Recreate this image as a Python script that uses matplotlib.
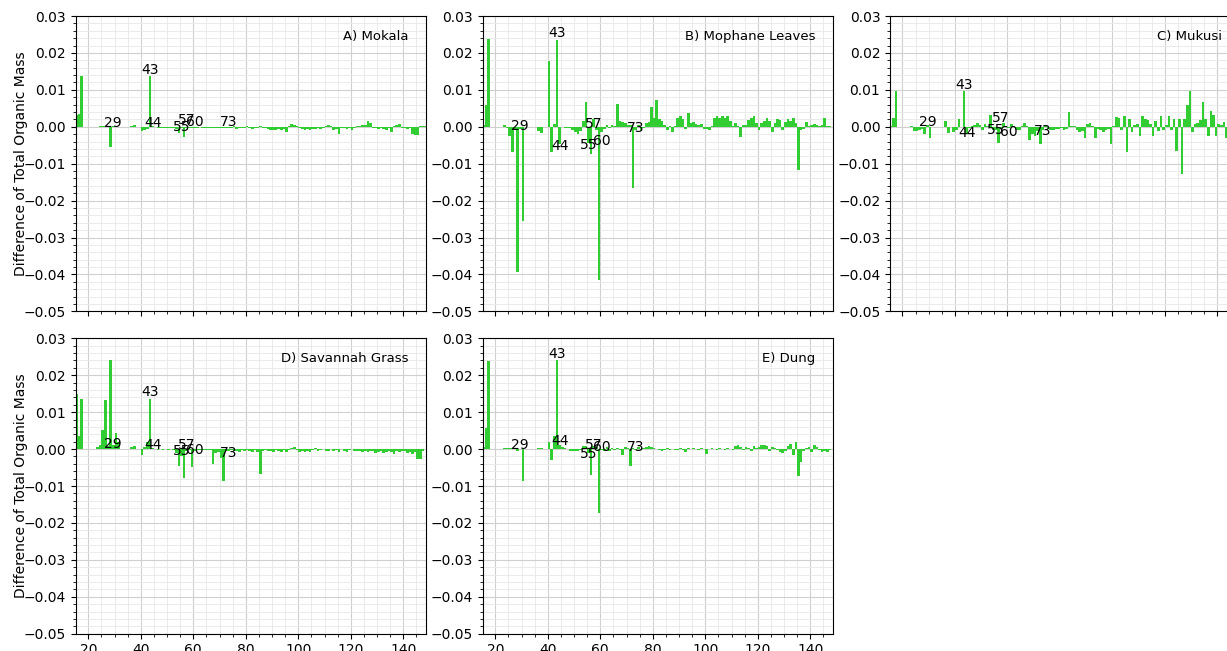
import numpy as np
import matplotlib.pyplot as plt
from matplotlib.ticker import AutoMinorLocator, MultipleLocator

# m/z axis shared by every panel
mz = np.arange(15, 149)

# difference of total organic mass per m/z (15 ... 148)
mokala = [
    0.0033, 0.0035, 0.0137, 0, 0, 0, 0, 0, 0, 0.0002,
    0.0003, 0.0002, 0, -0.0054, 0.0002, 0, 0, 0, 0, 0,
    0, 0.0003, 0.0004, 0, 0, -0.0012, -0.0009, -0.0005, 0.0137, 0.0002,
    -0.0001, -0.0002, -0.0002, -0.0003, -0.0002, -0.0002, -0.0003, -0.0002, -0.0005, -0.0016,
    -0.0004, -0.0027, -0.0003, -0.0002, -0.0003, -0.0002, -0.0002, -0.0001, -0.0003, -0.0004,
    -0.0004, -0.0003, -0.0004, -0.0004, -0.0003, -0.0002, -0.0003, -0.0002, -0.0003, -0.0002,
    0.0002, -0.0006, -0.0004, -0.0002, -0.0003, 0.0002, -0.0003, -0.0005, -0.0003, -0.0002,
    0.0002, -0.0002, -0.0003, -0.0006, -0.0009, -0.0008, -0.0009, -0.0006, -0.0009, -0.0006,
    -0.0014, 0.0003, 0.0007, 0.0005, 0.0003, -0.0003, -0.0006, -0.0008, -0.0006, -0.0009,
    -0.0007, -0.0005, -0.0003, -0.0006, -0.0004, 0.0003, 0.0005, 0.0003, -0.0008, -0.0005,
    -0.0019, -0.0003, -0.0004, -0.0006, -0.0003, -0.0009, -0.0004, 0.0002, 0.0003, 0.0004,
    0.0005, 0.0015, 0.0010, -0.0003, -0.0004, -0.0006, -0.0003, -0.0005, -0.0009, -0.0004,
    -0.0014, 0.0003, 0.0004, 0.0008, -0.0004, -0.0003, -0.0005, -0.0003, -0.0019, -0.0022,
    -0.0021, 0.0003, 0.0002, 0.0001,
]

mophane = [
    0.0005, 0.0058, 0.0237, 0, 0, 0, 0, 0, 0.0005, -0.0004,
    -0.0025, -0.0068, -0.0010, -0.0394, -0.0005, -0.0254, 0, 0, 0, 0,
    0, -0.0012, -0.0018, 0, 0, 0.0178, -0.0069, 0.0007, 0.0235, -0.0047,
    0, -0.0002, -0.0003, -0.0002, -0.0008, -0.0015, -0.0020, -0.0012, 0.0015, 0.0067,
    -0.0045, -0.0075, 0.0020, -0.0010, -0.0415, -0.0015, -0.0005, 0.0005, -0.0003, 0.0005,
    0.0003, 0.0062, 0.0015, 0.0012, 0.0010, 0.0005, 0.0004, -0.0165, -0.0008, 0.0005,
    -0.0008, -0.0003, 0.0010, 0.0012, 0.0053, 0.0025, 0.0072, 0.0020, 0.0015, 0.0005,
    -0.0008, 0.0002, -0.0015, 0.0002, 0.0025, 0.0030, 0.0020, -0.0005, 0.0038, 0.0010,
    0.0012, 0.0008, 0.0005, 0.0008, -0.0007, -0.0005, -0.0008, 0.0003, 0.0025, 0.0030,
    0.0025, 0.0030, 0.0025, 0.0030, 0.0015, 0.0003, 0.0010, 0.0002, -0.0027, 0.0005,
    0.0005, 0.0018, 0.0025, 0.0030, 0.0010, -0.0008, 0.0010, 0.0015, 0.0025, 0.0015,
    -0.0015, 0.0010, 0.0022, 0.0018, -0.0010, 0.0012, 0.0020, 0.0015, 0.0025, 0.0010,
    -0.0118, -0.0008, -0.0005, 0.0012, 0.0003, 0.0005, 0.0008, 0.0005, 0.0002, 0.0005,
    0.0025, 0.0003, 0.0002, 0,
]

mukusi = [
    0.0003, 0.0025, 0.0098, 0, 0, 0, 0, 0, 0.0003, -0.0012,
    -0.0012, -0.0008, -0.0006, -0.0020, 0.0006, -0.0030, 0, 0, 0, 0,
    0, 0.0015, -0.0018, 0, -0.0015, -0.0010, 0.0020, 0, 0.0098, -0.0020,
    -0.0004, 0.0003, 0.0005, 0.0010, 0.0005, -0.0008, 0.0008, 0.0003, 0.0032, -0.0008,
    -0.0010, -0.0045, -0.0005, 0.0010, 0.0003, -0.0004, 0.0008, 0.0002, -0.0008, -0.0008,
    0.0003, 0.0010, 0.0002, -0.0035, -0.0020, -0.0025, -0.0012, -0.0048, -0.0008, 0.0005,
    -0.0005, -0.0008, -0.0010, -0.0005, -0.0005, -0.0003, -0.0008, -0.0006, 0.0041, 0.0003,
    0.0002, -0.0008, -0.0015, -0.0012, -0.0030, 0.0008, 0.0010, 0.0002, -0.0030, -0.0005,
    -0.0010, -0.0015, -0.0008, -0.0005, -0.0048, 0.0003, 0.0027, 0.0025, -0.0010, 0.0030,
    -0.0068, 0.0020, -0.0015, 0.0005, 0.0008, -0.0025, 0.0030, 0.0020, 0.0018, 0.0008,
    -0.0025, 0.0015, -0.0012, 0.0030, -0.0008, 0.0005, 0.0028, -0.0008, 0.0020, -0.0065,
    0.0020, -0.0128, 0.0020, 0.0058, 0.0098, -0.0015, 0.0008, 0.0010, 0.0018, 0.0068,
    0.0020, -0.0025, 0.0042, 0.0032, -0.0025, 0.0008, 0.0005, 0.0012, -0.0030, 0.0010,
    0.0005, 0.0008, 0.0003, 0.0015,
]

savannah = [
    0.0150, 0.0035, 0.0137, 0, 0, 0, 0, 0, 0.0005, 0.0012,
    0.0052, 0.0132, 0.0008, 0.0240, 0.0010, 0.0043, 0.0020, 0, 0, 0,
    0, 0.0005, 0.0008, 0, 0, -0.0015, 0.0005, 0.0020, 0.0136, 0.0003,
    -0.0001, -0.0002, -0.0001, -0.0002, -0.0001, -0.0002, -0.0001, -0.0002, -0.0010, -0.0045,
    -0.0020, -0.0079, -0.0005, -0.0003, -0.0048, -0.0005, -0.0003, -0.0002, -0.0003, -0.0003,
    -0.0003, -0.0003, -0.0040, -0.0010, -0.0008, -0.0025, -0.0086, -0.0005, -0.0004, -0.0003,
    -0.0004, -0.0005, -0.0008, -0.0003, -0.0006, -0.0002, -0.0005, -0.0007, -0.0003, -0.0008,
    -0.0068, -0.0005, -0.0003, -0.0006, -0.0004, -0.0008, -0.0002, -0.0006, -0.0007, -0.0003,
    -0.0008, -0.0002, 0.0003, 0.0005, -0.0003, -0.0008, -0.0005, -0.0009, -0.0004, -0.0007,
    -0.0003, 0.0003, -0.0006, -0.0002, 0, -0.0004, -0.0006, 0, -0.0005, -0.0003,
    -0.0008, 0, -0.0004, -0.0007, -0.0003, 0, -0.0005, -0.0004, -0.0006, -0.0008,
    -0.0005, -0.0009, -0.0006, -0.0004, -0.0010, -0.0007, -0.0005, -0.0010, -0.0008, -0.0004,
    -0.0009, -0.0012, -0.0006, -0.0008, -0.0005, -0.0006, -0.0010, -0.0008, -0.0012, -0.0009,
    -0.0028, -0.0027, -0.0005, 0,
]

dung = [
    0.0005, 0.0057, 0.0238, 0, 0, 0, 0, 0, 0.0003, 0.0002,
    0.0003, 0.0002, 0.0003, -0.0005, 0, -0.0086, 0, 0, 0, 0,
    0, 0.0003, 0.0003, 0, 0, 0.0018, -0.0030, 0.0035, 0.0240, 0.0012,
    0.0005, 0.0003, 0, -0.0005, -0.0005, -0.0004, -0.0005, -0.0002, 0.0008, 0.0008,
    -0.0010, -0.0070, 0.0008, 0.0005, -0.0172, -0.0003, -0.0005, 0.0005, -0.0004, 0.0003,
    -0.0003, 0.0004, -0.0002, -0.0015, 0.0005, 0.0002, -0.0045, 0.0003, -0.0003, 0.0005,
    -0.0003, 0.0002, 0.0005, 0.0008, 0.0005, 0.0002, 0, -0.0003, -0.0005, -0.0003,
    0.0002, -0.0003, 0, -0.0003, -0.0002, 0.0002, -0.0002, -0.0008, 0.0002, 0,
    0.0002, 0, -0.0002, 0.0002, 0, -0.0012, 0, 0.0002, 0, -0.0003,
    0.0002, 0, -0.0003, 0.0003, 0, -0.0002, 0.0008, 0.0012, 0.0005, -0.0003,
    0.0005, 0.0003, -0.0005, 0.0008, 0.0003, 0.0005, 0.0012, 0.0010, 0.0008, -0.0005,
    0.0005, 0.0003, -0.0003, -0.0008, -0.0010, -0.0005, 0.0008, 0.0015, -0.0015, 0.0020,
    -0.0072, -0.0035, -0.0005, 0.0003, 0.0005, -0.0008, 0.0012, 0.0005, -0.0003, -0.0008,
    -0.0005, -0.0008, -0.0003, 0,
]

# labelled fragments and where their tags sit in each panel
peaks = [29, 43, 44, 55, 57, 60, 73]
tag_y = {
    'A': [0.0010, 0.0155, 0.0010, 0.0000, 0.0018, 0.0014, 0.0013],
    'B': [0.0001, 0.0255, -0.0053, -0.0049, 0.0007, -0.0038, -0.0002],
    'C': [0.0012, 0.0114, -0.0018, -0.0008, 0.0023, -0.0015, -0.0012],
    'D': [0.0015, 0.0154, 0.0010, -0.0006, 0.0012, -0.0002, -0.0011],
    'E': [0.0010, 0.0258, 0.0023, -0.0014, 0.0012, 0.0005, 0.0005],
}

panels = [
    ('A', 'A) Mokala', mokala),
    ('B', 'B) Mophane Leaves', mophane),
    ('C', 'C) Mukusi', mukusi),
    ('D', 'D) Savannah Grass', savannah),
    ('E', 'E) Dung', dung),
]

fig = plt.figure(figsize=(12.27, 6.51), dpi=100)

lefts = [0.0619, 0.3936, 0.7254]
bottoms = [0.5217, 0.0266]
w, h = 0.2850, 0.4537

axes = []
for i, (key, title, vals) in enumerate(panels):
    r, c = divmod(i, 3)
    ax = fig.add_axes([lefts[c], bottoms[r], w, h])
    axes.append(ax)

    ax.bar(mz, vals, width=1.0, align='edge', color='limegreen', linewidth=0)

    for p, ty in zip(peaks, tag_y[key]):
        ax.text(p + 0.5, ty, str(p), ha='center', va='center', fontsize=10)

    ax.text(0.95, 0.93, title, transform=ax.transAxes, ha='right', va='center',
            fontsize=9.5)

    ax.set_xlim(15.3, 148.5)
    ax.set_ylim(-0.05, 0.03)
    ax.xaxis.set_major_locator(MultipleLocator(20))
    ax.yaxis.set_major_locator(MultipleLocator(0.01))
    ax.xaxis.set_minor_locator(AutoMinorLocator(4))
    ax.yaxis.set_minor_locator(AutoMinorLocator(5))
    ax.grid(which='major', color='#d0d0d0', linewidth=0.8)
    ax.grid(which='minor', color='#e8e8e8', linewidth=0.6)
    ax.set_axisbelow(True)

    if r == 0:
        ax.tick_params(axis='x', labelbottom=False)
    if c == 0:
        ax.set_ylabel('Difference of Total Organic Mass', fontsize=10)
        ax.yaxis.set_label_coords(-0.138, 0.5)

fig.savefig('out.png', dpi=100, facecolor='white')
